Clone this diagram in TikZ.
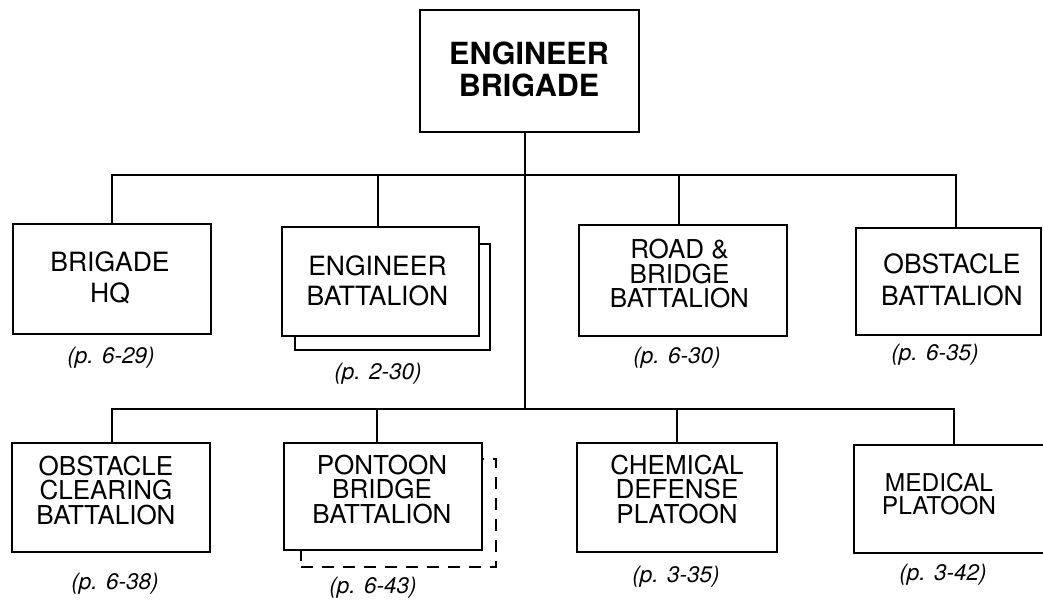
\documentclass[tikz,border=0pt]{standalone}
\usepackage{fontspec}
\setmainfont{TeX Gyre Heros}
\begin{document}
\begin{tikzpicture}[x=1pt,y=-1pt,
  box/.style={draw, line width=2pt, fill=white, inner sep=0pt},
  conn/.style={line width=2pt},
  txt/.style={align=center, inner sep=0pt, font=\fontsize{26.5}{31}\selectfont},
  txtthree/.style={align=center, inner sep=0pt, font=\fontsize{26}{24.5}\selectfont},
  pagelbl/.style={inner sep=0pt, font=\fontsize{22.5}{24}\selectfont\itshape},
  dashedbox/.style={draw, line width=1.1pt, dash pattern=on 12pt off 9pt, inner sep=0pt}]
\useasboundingbox (0,0) rectangle (1043,607);
\clip (0,0) rectangle (1043,607);
\fill[white] (0,0) rectangle (1043,607);

% boxes
\node[box, minimum width=219pt, minimum height=122pt] (top) at (529.5,71) {};
\node[box, minimum width=198pt, minimum height=110pt] (hq) at (112,279) {};
\node[box, minimum width=195pt, minimum height=106pt] (engbak) at (392.5,297) {};
\node[box, minimum width=197pt, minimum height=109pt] (engbat) at (380.5,281.5) {};
\node[box, minimum width=208pt, minimum height=111pt] (road) at (683,280.5) {};
\node[box, minimum width=185pt, minimum height=107pt] (obst) at (948.5,281.5) {};
\node[box, minimum width=198pt, minimum height=109pt] (ocb) at (111,497.5) {};
\node[dashedbox, minimum width=195pt, minimum height=108pt] (pontbak) at (398.5,513) {};
\node[box, minimum width=198pt, minimum height=107pt] (pont) at (383,496.5) {};
\node[box, minimum width=200pt, minimum height=109pt] (chem) at (677,497.5) {};
\node[box, minimum width=200pt, minimum height=108pt] (med) at (954,499) {};

% texts
\node[align=center, inner sep=0pt, font=\fontsize{30.5}{32}\selectfont\bfseries] (topt) at (529,69) {ENGINEER\\BRIGADE};
\node[txt] (hqt) at (110,278) {BRIGADE\\HQ};
\node[txt, font=\fontsize{26.5}{30}\selectfont] (engt) at (377.5,280.5) {ENGINEER\\BATTALION};
\node[txtthree] (roadt) at (679.5,274) {ROAD \&\\BRIDGE\\BATTALION};
\node[txt, font=\fontsize{26.5}{32}\selectfont] (obstt) at (952,279.5) {OBSTACLE\\BATTALION};
\node[txtthree] (ocbt) at (106,490.5) {OBSTACLE\\CLEARING\\BATTALION};
\node[txtthree] (pontt) at (382,489.5) {PONTOON\\BRIDGE\\BATTALION};
\node[txtthree] (chemt) at (677,489.5) {CHEMICAL\\DEFENSE\\PLATOON};
\node[align=center, inner sep=0pt, font=\fontsize{24.5}{23.5}\selectfont] (medt) at (939,494) {MEDICAL\\PLATOON};

% page labels
\node[pagelbl] (hql) at (111,358) {(p. 6-29)};
\node[pagelbl] (engl) at (378,374) {(p. 2-30)};
\node[pagelbl] (roadl) at (677,358) {(p. 6-30)};
\node[pagelbl] (obstl) at (935,355) {(p. 6-35)};
\node[pagelbl] (ocbl) at (115,584) {(p. 6-38)};
\node[pagelbl] (pontl) at (373,588) {(p. 6-43)};
\node[pagelbl] (cheml) at (676,577) {(p. 3-35)};
\node[pagelbl] (medl) at (943,575) {(p. 3-42)};

% connectors
\coordinate (bus1) at (525,175);
\coordinate (bus2) at (525,409);
\draw[conn] ([xshift=-4.5pt]top.south) -- (bus2);
\draw[conn] (hq.north) |- (bus1);
\draw[conn] ([xshift=7.5pt]obst.north) |- (bus1);
\draw[conn] ([xshift=-2.5pt]engbat.north) -- ([xshift=-2.5pt]engbat.north |- bus1);
\draw[conn] ([xshift=-4pt]road.north) -- ([xshift=-4pt]road.north |- bus1);
\draw[conn] ([xshift=1pt]ocb.north) |- (bus2);
\draw[conn] (med.north) |- (bus2);
\draw[conn] ([xshift=-6pt]pont.north) -- ([xshift=-6pt]pont.north |- bus2);
\draw[conn] (chem.north) -- (chem.north |- bus2);
\end{tikzpicture}
\end{document}
